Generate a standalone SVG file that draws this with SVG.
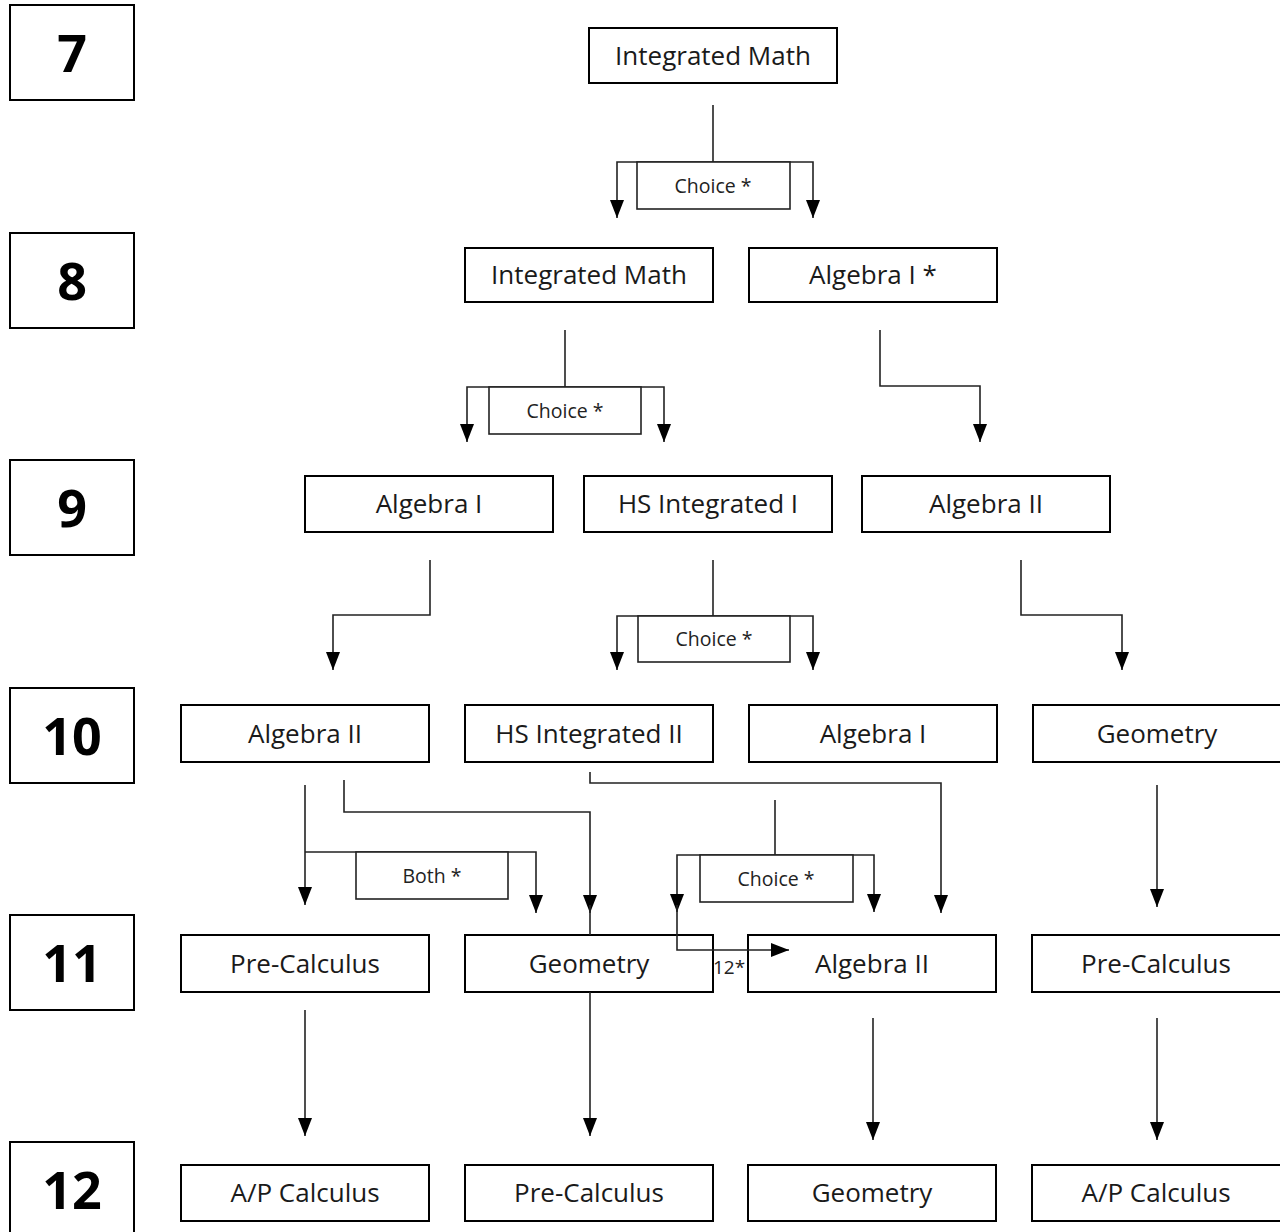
<svg xmlns="http://www.w3.org/2000/svg" width="1280" height="1232" viewBox="0 0 1280 1232">
<style>
.g rect{fill:#fff;stroke:#000;stroke-width:2}
.g text{font-family:"Open Sans","Liberation Sans",sans-serif;font-weight:700;font-size:52px;text-anchor:middle;fill:#000}
.n rect{fill:#fff;stroke:#000;stroke-width:2}
.n text{font-family:"Open Sans","Liberation Sans",sans-serif;font-size:26px;text-anchor:middle;fill:#1a1a1a}
.c rect{fill:#fff;stroke:#222;stroke-width:1.6}
.c text{font-family:"Open Sans","Liberation Sans",sans-serif;font-size:19.5px;text-anchor:middle;fill:#222}
.e path{fill:none;stroke:#222;stroke-width:1.6}
.e .a{marker-end:url(#ah)}
.lbl{font-family:"Open Sans","Liberation Sans",sans-serif;font-size:19px;fill:#222}
</style>
<defs>
<marker id="ah" viewBox="0 0 18 14" refX="18" refY="7" markerWidth="18" markerHeight="14" markerUnits="userSpaceOnUse" orient="auto">
<path d="M0,0 L18,7 L0,14 Z" fill="#000"/>
</marker>
</defs>
<rect width="1280" height="1232" fill="#fff"/>

<g id="grades">
<g id="grade7" class="g"><rect x="10" y="5" width="124" height="95"/><text x="72" y="72">7</text></g>
<g id="grade8" class="g"><rect x="10" y="233" width="124" height="95"/><text x="72" y="300">8</text></g>
<g id="grade9" class="g"><rect x="10" y="460" width="124" height="95"/><text x="72" y="527">9</text></g>
<g id="grade10" class="g"><rect x="10" y="688" width="124" height="95"/><text x="72" y="755">10</text></g>
<g id="grade11" class="g"><rect x="10" y="915" width="124" height="95"/><text x="72" y="982">11</text></g>
<g id="grade12" class="g"><rect x="10" y="1142" width="124" height="95"/><text x="72" y="1209">12</text></g>
</g>

<g id="n7" class="n"><rect x="589" y="28" width="248" height="55"/><text x="713" y="65">Integrated Math</text></g>
<g id="n8a" class="n"><rect x="465" y="248" width="248" height="54"/><text x="589" y="284">Integrated Math</text></g>
<g id="n8b" class="n"><rect x="749" y="248" width="248" height="54"/><text x="873" y="284">Algebra I *</text></g>
<g id="n9a" class="n"><rect x="305" y="476" width="248" height="56"/><text x="429" y="513">Algebra I</text></g>
<g id="n9b" class="n"><rect x="584" y="476" width="248" height="56"/><text x="708" y="513">HS Integrated I</text></g>
<g id="n9c" class="n"><rect x="862" y="476" width="248" height="56"/><text x="986" y="513">Algebra II</text></g>
<g id="n10a" class="n"><rect x="181" y="705" width="248" height="57"/><text x="305" y="743">Algebra II</text></g>
<g id="n10b" class="n"><rect x="465" y="705" width="248" height="57"/><text x="589" y="743">HS Integrated II</text></g>
<g id="n10c" class="n"><rect x="749" y="705" width="248" height="57"/><text x="873" y="743">Algebra I</text></g>
<g id="n10d" class="n"><rect x="1033" y="705" width="250" height="57"/><text x="1157" y="743">Geometry</text></g>
<g id="n11a" class="n"><rect x="181" y="935" width="248" height="57"/><text x="305" y="973">Pre-Calculus</text></g>
<g id="n11b" class="n"><rect x="465" y="935" width="248" height="57"/><text x="589" y="973">Geometry</text></g>
<g id="n11c" class="n"><rect x="748" y="935" width="248" height="57"/><text x="872" y="973">Algebra II</text></g>
<g id="n11d" class="n"><rect x="1032" y="935" width="251" height="57"/><text x="1156" y="973">Pre-Calculus</text></g>
<g id="n12a" class="n"><rect x="181" y="1165" width="248" height="56"/><text x="305" y="1202">A/P Calculus</text></g>
<g id="n12b" class="n"><rect x="465" y="1165" width="248" height="56"/><text x="589" y="1202">Pre-Calculus</text></g>
<g id="n12c" class="n"><rect x="748" y="1165" width="248" height="56"/><text x="872" y="1202">Geometry</text></g>
<g id="n12d" class="n"><rect x="1032" y="1165" width="251" height="56"/><text x="1156" y="1202">A/P Calculus</text></g>

<g id="connectors" class="e">
<!-- 7 -> 8 -->
<path d="M713,105 V162"/>
<path class="a" d="M713,162 H617 V218"/>
<path class="a" d="M713,162 H813 V218"/>
<!-- 8 -> 9 -->
<path d="M565,330 V387"/>
<path class="a" d="M565,387 H467 V442"/>
<path class="a" d="M565,387 H664 V442"/>
<path class="a" d="M880,330 V386 H980 V442"/>
<!-- 9 -> 10 -->
<path class="a" d="M430,560 V615 H333 V670"/>
<path d="M713,560 V616"/>
<path class="a" d="M713,616 H617 V670"/>
<path class="a" d="M713,616 H813 V670"/>
<path class="a" d="M1021,560 V615 H1122 V670"/>
<!-- 10 -> 11 -->
<path class="a" d="M305,785 V905"/>
<path class="a" d="M305,852 H536 V913"/>
<path class="a" d="M344,780 V812 H590 V913"/>
<path d="M590,905 V935"/>
<path class="a" d="M590,772 V783 H941 V913"/>
<path d="M775,800 V855"/>
<path class="a" d="M775,855 H677 V912"/>
<path class="a" d="M775,855 H874 V912"/>
<path class="a" d="M677,905 V950 H789"/>
<path class="a" d="M1157,785 V907"/>
<!-- 11 -> 12 -->
<path class="a" d="M305,1010 V1136"/>
<path class="a" d="M590,992 V1136"/>
<path class="a" d="M873,1018 V1140"/>
<path class="a" d="M1157,1018 V1140"/>
</g>

<g id="choice1" class="c"><rect x="637" y="162" width="153" height="47"/><text x="713" y="193">Choice *</text></g>
<g id="choice2" class="c"><rect x="489" y="387" width="152" height="47"/><text x="565" y="418">Choice *</text></g>
<g id="choice3" class="c"><rect x="638" y="616" width="152" height="46"/><text x="714" y="646">Choice *</text></g>
<g id="both" class="c"><rect x="356" y="852" width="152" height="47"/><text x="432" y="883">Both *</text></g>
<g id="choice4" class="c"><rect x="700" y="855" width="153" height="47"/><text x="776" y="886">Choice *</text></g>

<text class="lbl" x="713" y="974">12*</text>
</svg>
